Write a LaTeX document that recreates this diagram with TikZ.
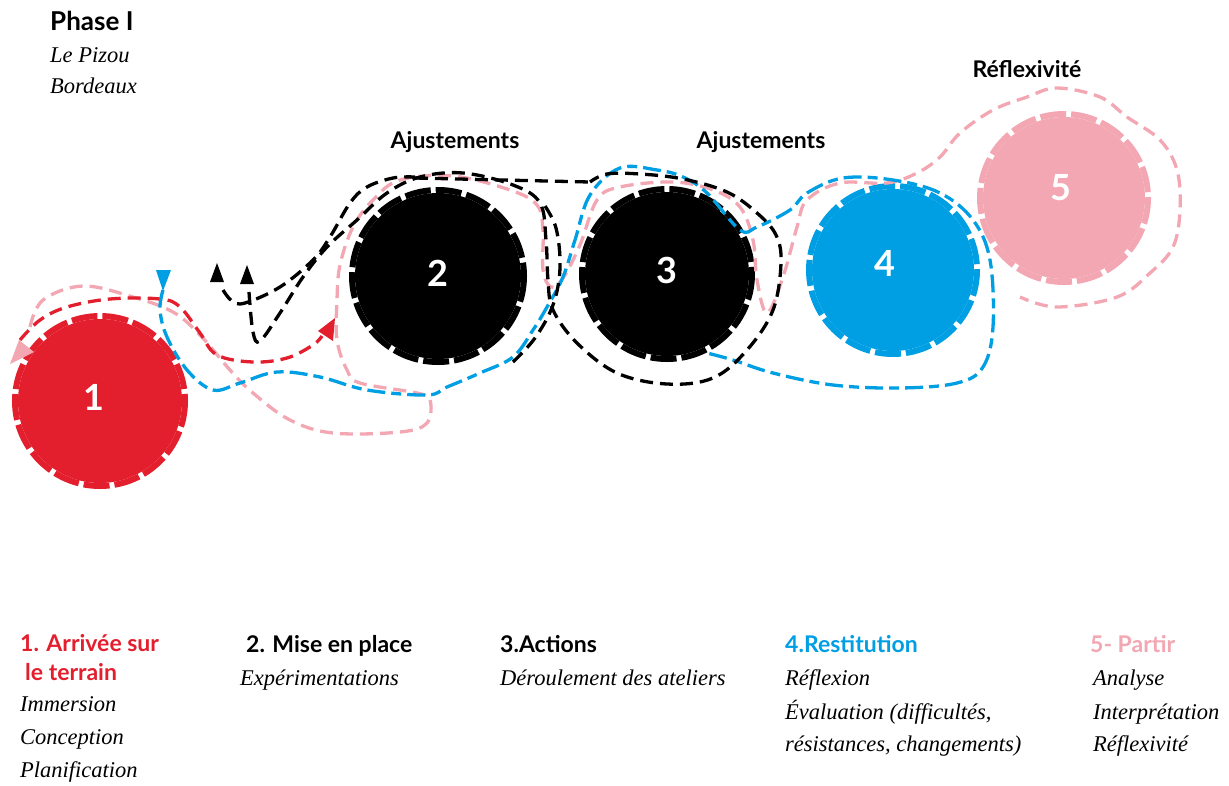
\documentclass[tikz,border=0pt]{standalone}
\usepackage{fontspec}
\setmainfont{Liberation Serif}
\newfontfamily\gsans{Lato}
\usetikzlibrary{arrows.meta}
\definecolor{cred}{RGB}{227,30,45}
\definecolor{cblue}{RGB}{0,159,227}
\definecolor{cpink}{RGB}{242,167,179}
\tikzset{
  phase/.style={circle,inner sep=0pt},
  numtxt/.style={text=white,font=\gsans\bfseries\fontsize{36}{36}\selectfont},
  boldlbl/.style={anchor=base west,inner sep=0pt,font=\gsans\bfseries\fontsize{23}{25}\selectfont},
  itlbl/.style={anchor=base west,inner sep=0pt,font=\itshape\fontsize{22.5}{24}\selectfont},
  trail/.style={line width=3.3pt,dash pattern=on 13pt off 7pt},
  trailb/.style={line width=3.3pt,dash pattern=on 18pt off 6pt on 10pt off 6pt},
}
\newcommand{\dashdisc}[4]{%
  \fill[#1] (#2,#3) circle (#4-3);
  \draw[#1,line width=6pt,dash pattern=on 26pt off 5pt] (#2,#3) circle (#4);
}
\begin{document}
\begin{tikzpicture}[x=1pt,y=-1pt]
\useasboundingbox (0,0) rectangle (1229,785);
% discs
\dashdisc{cred}{100}{401}{85}
\dashdisc{black}{438}{276}{86}
\dashdisc{black}{667}{274}{85}
\dashdisc{cblue}{893}{270}{84}
\dashdisc{cpink}{1064}{198}{84}
\node[numtxt] (n1) at (94,397) {1};
\node[numtxt] (n2) at (438,273) {2};
\node[numtxt] (n3) at (667,270) {3};
\node[numtxt] (n4) at (885,263) {4};
\node[numtxt] (n5) at (1061,188) {5};
% pink trail
\draw[cpink,trail] plot[smooth,tension=0.6] coordinates {(30,327) (43,300) (83,286) (133,297) (173,312) (200,335) (230,370) (253,393) (290,420) (333,433) (400,432) (427,423) (430,400) (417,393) (360,383) (347,370) (337,340) (337,300) (340,265) (353,227) (373,200) (400,180) (453,176) (510,190) (537,205) (543,230) (543,270) (551,287) (563,278) (580,245) (597,200) (620,187) (673,182) (713,190) (740,207) (753,240) (757,280) (767,313) (783,277) (797,227) (807,200) (840,183) (887,183) (917,173) (940,157) (960,133) (993,110) (1027,97) (1057,88) (1100,97) (1127,117) (1160,140) (1177,170) (1180,210) (1173,247) (1150,273) (1117,297) (1057,307) (1020,297)};
\fill[cpink] (10,364) -- (19,340) -- (34,352) -- cycle;
% red trail
\draw[cred,trail] plot[smooth,tension=0.6] coordinates {(20,340) (40,320) (67,307) (110,299) (160,299) (180,307) (200,333) (217,355) (253,362) (287,358) (313,345) (322,336)};
\fill[cred] (335,318) -- (318,331) -- (333,341) -- cycle;
% blue trail
\draw[cblue,trailb] plot[smooth,tension=0.6] coordinates {(163,290) (160,310) (167,337) (187,370) (213,390) (240,383) (277,372) (320,377) (367,390) (427,395) (447,387) (480,373) (513,357) (533,330) (547,307) (563,277) (575,240) (590,195) (620,168) (657,170) (683,177) (707,193) (740,230) (757,227) (790,210) (807,193) (843,178) (893,180) (940,193) (973,220) (990,260) (993,327) (983,367) (957,383) (900,388) (833,385) (773,373) (733,360) (707,353)};
\fill[cblue] (156,270) -- (171,270) -- (163,291) -- cycle;
% black trails
\draw[black,trail] plot[smooth,tension=0.6] coordinates {(223,290) (232,301) (245,303) (280,287) (313,260) (330,237) (350,203) (367,187) (393,178) (415,177)};
\draw[black,trail] (415,178) -- (590,182);
\draw[black,trail] plot[smooth,tension=0.6] coordinates {(249,292) (253,332) (260,341) (280,313) (303,277) (327,247) (357,220) (387,193) (420,177) (463,173) (513,185) (540,203) (546,240) (548,280) (553,310) (577,343) (617,373) (667,384) (713,378) (747,350) (773,310) (781,263) (776,235) (757,213) (727,192) (683,179) (640,174) (607,174) (590,182)};
\draw[black,trail] plot[smooth,tension=0.6] coordinates {(513,362) (535,338) (553,305) (560,268) (556,228) (543,203)};
\fill[black] (210,282) -- (224,282) -- (217,263) -- cycle;
\fill[black] (240,284) -- (254,284) -- (247,265) -- cycle;
% top texts
\node[boldlbl,font=\gsans\bfseries\fontsize{26}{28}\selectfont] (ph) at (50,30) {Phase I};
\node[itlbl] (lp) at (50,62) {Le Pizou};
\node[itlbl] (bx) at (50,93) {Bordeaux};
\node[boldlbl,anchor=base] (aj1) at (455,148) {Ajustements};
\node[boldlbl,anchor=base] (aj2) at (761,148) {Ajustements};
\node[boldlbl,anchor=base] (rf) at (1027,77) {Réflexivité};
% bottom legend
\node[boldlbl,text=cred] (l1a) at (20,651) {1. Arrivée sur};
\node[boldlbl,text=cred] (l1b) at (25,680) {le terrain};
\node[itlbl] (l1c) at (20,711) {Immersion};
\node[itlbl] (l1d) at (20,744) {Conception};
\node[itlbl] (l1e) at (20,777) {Planification};
\node[boldlbl] (l2a) at (246,652) {2. Mise en place};
\node[itlbl] (l2b) at (240,685) {Expérimentations};
\node[boldlbl] (l3a) at (500,652) {3.Actions};
\node[itlbl] (l3b) at (500,685) {Déroulement des ateliers};
\node[boldlbl,text=cblue] (l4a) at (785,652) {4.Restitution};
\node[itlbl] (l4b) at (785,685) {Réflexion};
\node[itlbl] (l4c) at (785,719) {Évaluation (difficultés,};
\node[itlbl] (l4d) at (785,751) {résistances, changements)};
\node[boldlbl,text=cpink] (l5a) at (1090,652) {5- Partir};
\node[itlbl] (l5b) at (1093,685) {Analyse};
\node[itlbl] (l5c) at (1093,719) {Interprétation};
\node[itlbl] (l5d) at (1093,751) {Réflexivité};
\end{tikzpicture}
\end{document}
